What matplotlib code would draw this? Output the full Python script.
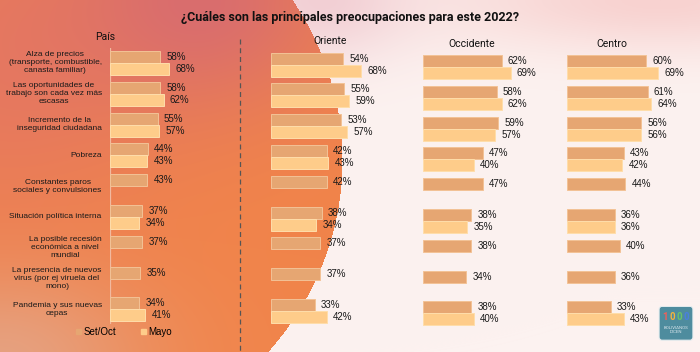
import numpy as np
import matplotlib
matplotlib.use("agg")
from matplotlib import pyplot as plt
from matplotlib.lines import Line2D
from matplotlib.patches import FancyBboxPatch

# data
categories = [
    "Alza de precios\n(transporte, combustible,\ncanasta familiar)",
    "Las oportunidades de\ntrabajo son cada vez más\nescasas",
    "Incremento de la\ninseguridad ciudadana",
    "Pobreza",
    "Constantes paros\nsociales y convulsiones",
    "Situación política interna",
    "La posible recesión\neconómica a nivel\nmundial",
    "La presencia de nuevos\nvirus (por ej viruela del\nmono)",
    "Pandemia y sus nuevas\ncepas",
]
panels = ["País", "Oriente", "Occidente", "Centro"]
pais_set = [58, 58, 55, 44, 43, 37, 37, 35, 34]
pais_may = [68, 62, 57, 43, None, 34, None, None, 41]
oriente_set = [54, 55, 53, 42, 42, 38, 37, 37, 33]
oriente_may = [68, 59, 57, 43, None, 34, None, None, 42]
occid_set = [62, 58, 59, 47, 47, 38, 38, 34, 38]
occid_may = [69, 62, 57, 40, None, 35, None, None, 40]
centro_set = [60, 61, 56, 43, 44, 36, 40, 36, 33]
centro_may = [69, 64, 56, 42, None, 36, None, None, 43]

C_SET = "#E6A672"
C_MAY = "#FECC8A"
W, H = 700, 352
ROW = 30.8  # px per row
VAL_FONT = "Liberation Sans"


def px(x, y):
    return x / W, 1 - y / H


fig = plt.figure(figsize=(7, 3.52), dpi=100)

# background: orange disc on the left, pale pink on the right
yy, xx = np.mgrid[0:H, 0:W].astype(float)
inside = ((xx - 20) / 322) ** 2 + ((yy - 160) / 300) ** 2 < 1
orange = np.array([241, 132, 74]) / 255
pink = np.array([212, 104, 118]) / 255
coral = np.array([228, 118, 100]) / 255
peach = np.array([228, 168, 140]) / 255
w_pink = np.exp(-(((xx - 200) / 140) ** 2 + (yy / 110) ** 2))[..., None]
w_coral = np.exp(-((xx / 160) ** 2 + ((yy - 60) / 160) ** 2))[..., None]
w_peach = np.exp(-((xx / 150) ** 2 + ((yy - 360) / 90) ** 2))[..., None]
col_in = orange * np.ones((H, W, 3))
col_in = col_in * (1 - w_coral * 0.8) + coral * w_coral * 0.8
col_in = col_in * (1 - w_pink * 0.8) + pink * w_pink * 0.8
col_in = col_in * (1 - w_peach * 0.8) + peach * w_peach * 0.8
pale = np.array([252, 242, 240]) / 255
rose = np.array([248, 210, 208]) / 255
w_rose = np.exp(-(((xx - 660) / 220) ** 2 + (yy / 50) ** 2))[..., None]
w_rose2 = np.exp(-(((xx - 320) / 90) ** 2 + (yy / 60) ** 2))[..., None]
col_out = pale * np.ones((H, W, 3))
col_out = col_out * (1 - w_rose) + rose * w_rose
col_out = col_out * (1 - w_rose2 * 0.6) + np.array([236, 186, 196]) / 255 * w_rose2 * 0.6
bg = np.where(inside[..., None], col_in, col_out)

ax_bg = fig.add_axes([0, 0, 1, 1], zorder=-10)
ax_bg.imshow(bg, extent=[0, W, H, 0], aspect="auto", interpolation="bilinear")
ax_bg.set_xlim(0, W)
ax_bg.set_ylim(H, 0)
ax_bg.axis("off")


def panel(x0, scale, c0, top, bottom, set_vals, may_vals, width=130):
    l, b = px(x0, bottom)
    ax = fig.add_axes([l, b, width / W, (bottom - top) / H])
    ax.patch.set_alpha(0)
    ax.set_xlim(0, width / scale)
    ax.set_ylim((bottom - c0) / ROW, (top - c0) / ROW)
    h = 12 / ROW
    ys = np.arange(len(set_vals))
    ax.barh(ys - h / 2, set_vals, height=h, color=C_SET, edgecolor="#F3C296", linewidth=0.7)
    my = [i for i, v in enumerate(may_vals) if v is not None]
    mv = [may_vals[i] for i in my]
    ax.barh(np.array(my) + h / 2, mv, height=h, color=C_MAY, edgecolor="#FFDDAA", linewidth=0.7)
    for i, v in enumerate(set_vals):
        ax.annotate(f"{v}%", xy=(v, i - h / 2), xytext=(4.5, 0), textcoords="offset points",
                    va="center", ha="left", fontsize=7, family=VAL_FONT, color="#1a1a1a")
    for i, v in zip(my, mv):
        ax.annotate(f"{v}%", xy=(v, i + h / 2), xytext=(4.5, 0), textcoords="offset points",
                    va="center", ha="left", fontsize=7, family=VAL_FONT, color="#1a1a1a")
    ax.set_xticks([])
    ax.set_yticks([])
    for s in ax.spines.values():
        s.set_visible(False)
    return ax


ax_p = panel(110, 0.865, 63, 48, 324, pais_set, pais_may)
ax_p.axvline(0, color="#F2B9A0", lw=0.9, zorder=0)
for i, cat in enumerate(categories):
    ax_p.annotate(cat, xy=(0, i), xytext=(-6, 0), textcoords="offset points",
                  ha="right", va="center", multialignment="center", fontsize=6,
                  family=VAL_FONT, linespacing=1.2, color="#1a1a1a")

panel(271, 1.33, 64.5, 45, 330, oriente_set, oriente_may)
panel(423, 1.27, 67, 45, 330, occid_set, occid_may)
panel(567, 1.32, 67, 45, 330, centro_set, centro_may)

# titles
fig.text(*px(350, 17), "¿Cuáles son las principales preocupaciones para este 2022?",
         ha="center", va="center", fontsize=9, fontweight="bold", family="Roboto", color="#111111")
for name, (x, y) in zip(panels, [(105, 37), (330, 41), (472, 44), (612, 44)]):
    fig.text(*px(x, y), name, ha="center", va="center", fontsize=7.5, family="Roboto", color="#111111")

# dashed separator
fig.add_artist(Line2D([240 / W] * 2, [1 - 39 / H, 0], transform=fig.transFigure,
                      ls=(0, (4, 3)), color="#555555", lw=0.9))

# legend
handles = [plt.Rectangle((0, 0), 1, 1, color=C_SET), plt.Rectangle((0, 0), 1, 1, color=C_MAY)]
fig.legend(handles, ["Set/Oct", "Mayo"], loc="center", bbox_to_anchor=px(124, 332), ncol=2,
           frameon=False, handlelength=0.45, handleheight=0.45, handletextpad=0.25,
           columnspacing=2.6, prop={"family": VAL_FONT, "size": 7})

# logo
ax_l = fig.add_axes([*px(658, 344), 36 / W, 38 / H])
ax_l.axis("off")
ax_l.set_xlim(0, 1)
ax_l.set_ylim(0, 1)
ax_l.add_patch(FancyBboxPatch((0.05, 0.12), 0.9, 0.85, boxstyle="round,pad=0.02,rounding_size=0.08",
                              facecolor="#4E8C9E", edgecolor="#E8EEF0", lw=0.8))
for k, (ch, c) in enumerate(zip("1000", ["#F0605A", "#F6B23C", "#6CC36A", "#4A7FE0"])):
    ax_l.text(0.2 + k * 0.2, 0.72, ch, ha="center", va="center", fontsize=7, fontweight="bold",
              color=c, family="Roboto")
ax_l.text(0.5, 0.38, "BOLIVIANOS\nDICEN", ha="center", va="center", fontsize=3.2,
          color="#DDE8EE", family="Roboto", linespacing=1.0)

fig.savefig("out.png", dpi=100)
